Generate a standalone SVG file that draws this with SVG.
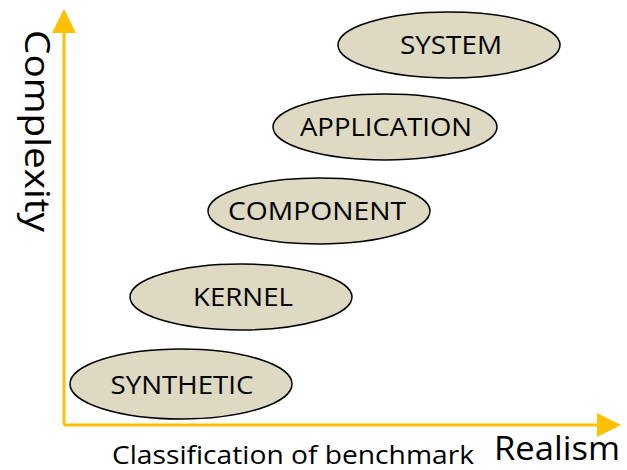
<svg xmlns="http://www.w3.org/2000/svg" width="627" height="470" viewBox="0 0 627 470">
<style>
.node ellipse{fill:#ddd9c3;stroke:#000;stroke-width:1.5}
.node text{font-family:"Open Sans","Liberation Sans",sans-serif;font-size:25px;fill:#000;text-anchor:middle}
.axis{stroke:#ffc000;stroke-width:3;fill:none}
.lbl{font-family:"Open Sans","Liberation Sans",sans-serif;fill:#000}
</style>
<defs>
<marker id="ah" markerWidth="8" markerHeight="8" refX="7" refY="4" orient="auto" markerUnits="strokeWidth">
<path d="M0,0 L8,4 L0,8 Z" fill="#ffc000"/>
</marker>
</defs>
<rect width="627" height="470" fill="#fff"/>
<g id="connectors">
<path class="axis" d="M64,425 V12" marker-end="url(#ah)"/>
<path class="axis" d="M64,425 H618" marker-end="url(#ah)"/>
</g>
<g id="system" class="node"><ellipse cx="449" cy="45" rx="111" ry="33"/><text x="451" y="54" textLength="102" lengthAdjust="spacingAndGlyphs">SYSTEM</text></g>
<g id="application" class="node"><ellipse cx="385" cy="127" rx="112" ry="33"/><text x="386" y="136" textLength="172" lengthAdjust="spacingAndGlyphs">APPLICATION</text></g>
<g id="component" class="node"><ellipse cx="319" cy="211" rx="111" ry="33"/><text x="317" y="220" textLength="178" lengthAdjust="spacingAndGlyphs">COMPONENT</text></g>
<g id="kernel" class="node"><ellipse cx="241" cy="297" rx="111" ry="33"/><text x="243" y="306" textLength="100" lengthAdjust="spacingAndGlyphs">KERNEL</text></g>
<g id="synthetic" class="node"><ellipse cx="181" cy="384" rx="111" ry="35"/><text x="182" y="394" textLength="143" lengthAdjust="spacingAndGlyphs">SYNTHETIC</text></g>
<text class="lbl" transform="translate(25,30) rotate(90)" font-size="34" textLength="202" lengthAdjust="spacingAndGlyphs">Complexity</text>
<text class="lbl" x="112" y="464" font-size="25" textLength="362" lengthAdjust="spacingAndGlyphs">Classification of benchmark</text>
<text class="lbl" x="494" y="460" font-size="32" textLength="126" lengthAdjust="spacingAndGlyphs">Realism</text>
</svg>
